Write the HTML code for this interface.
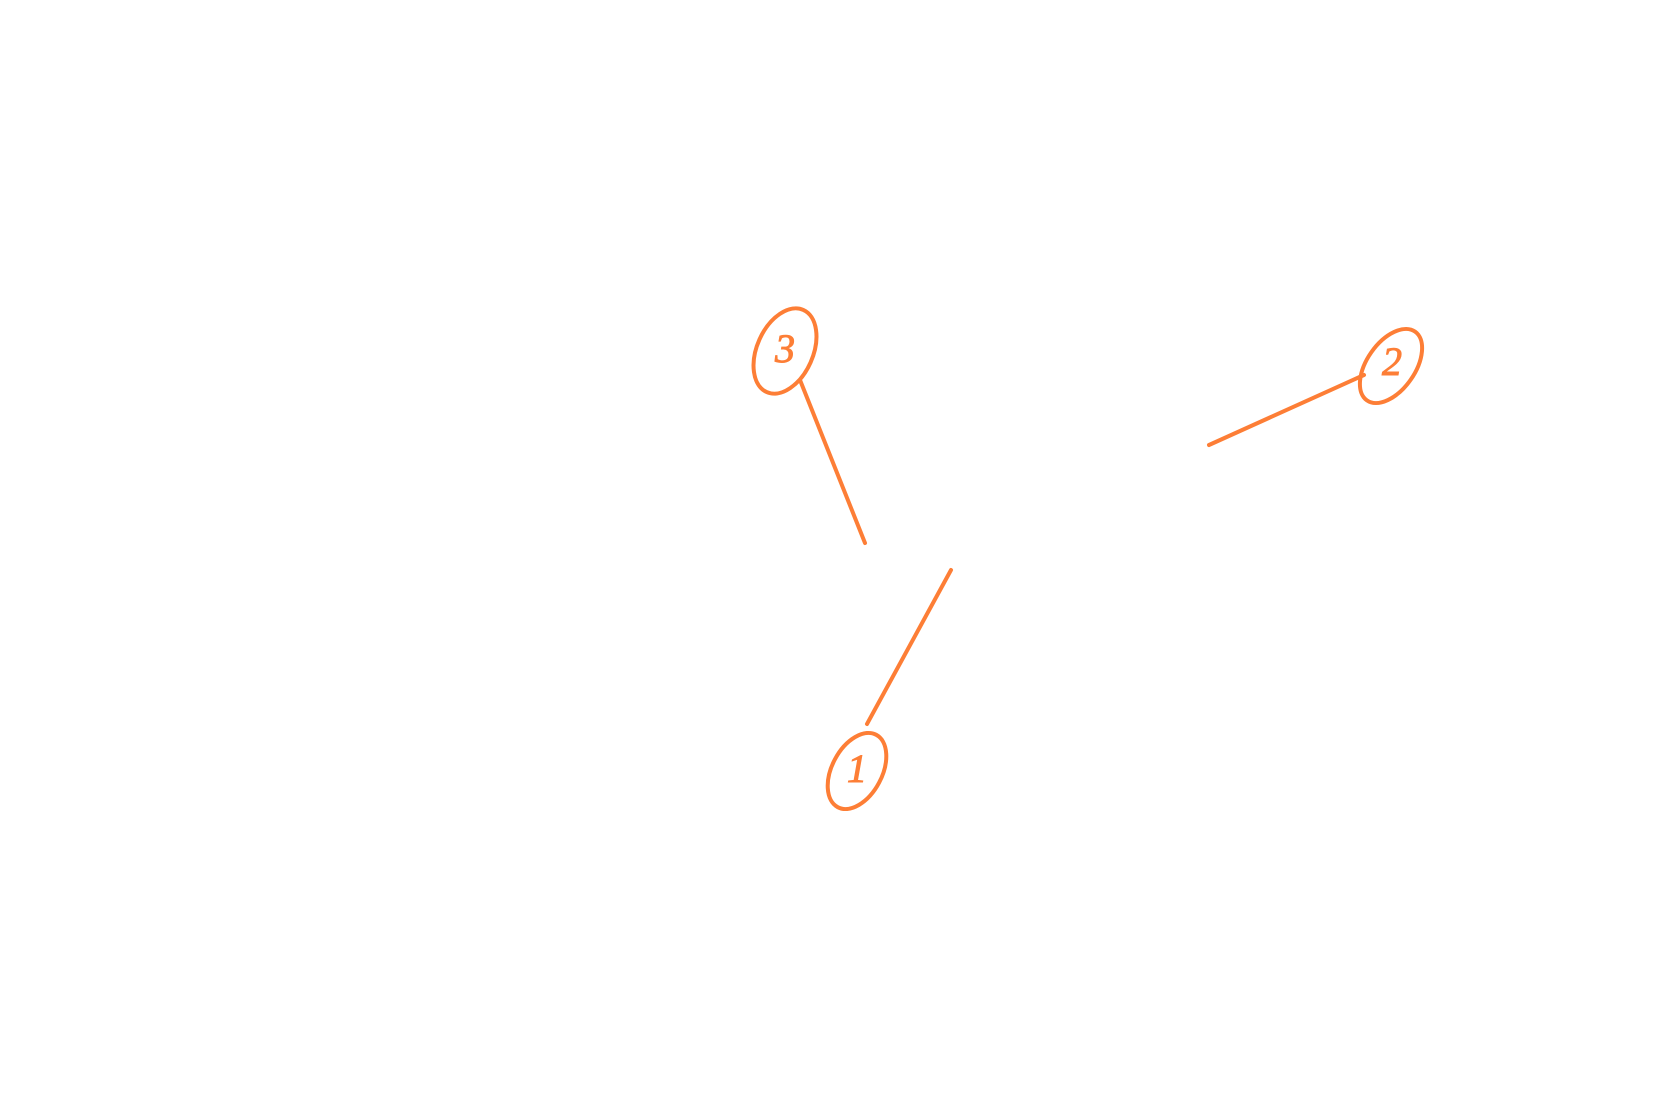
<!DOCTYPE html>
<html><head><meta charset="utf-8"><style>
html,body{margin:0;padding:0;background:#fff;}
svg{display:block}
text{font-family:"Liberation Serif",serif;font-style:italic;fill:#fd7e36;stroke:#fd7e36;stroke-width:1;}
</style></head><body>
<svg width="1680" height="1105" viewBox="0 0 1680 1105" xmlns="http://www.w3.org/2000/svg">
<g transform="translate(-4,0)">
<g stroke="#fd7e36" stroke-width="4" fill="none" stroke-linecap="round">
<line x1="804" y1="380" x2="869" y2="543"/>
<line x1="955" y1="570" x2="871" y2="724"/>
<line x1="1213" y1="445" x2="1368" y2="375"/>
<ellipse cx="789" cy="351" rx="28" ry="45" transform="rotate(24 789 351)"/>
<ellipse cx="861" cy="771" rx="25" ry="41" transform="rotate(28 861 771)"/>
<ellipse cx="1395" cy="366" rx="24" ry="42" transform="rotate(35 1395 366)"/>
</g>
<text x="789" y="353" font-size="40" text-anchor="middle" dominant-baseline="middle">3</text>
<text x="861" y="773" font-size="40" text-anchor="middle" dominant-baseline="middle">1</text>
<text x="1396" y="366" font-size="40" text-anchor="middle" dominant-baseline="middle">2</text>
</g>
</svg>
</body></html>
